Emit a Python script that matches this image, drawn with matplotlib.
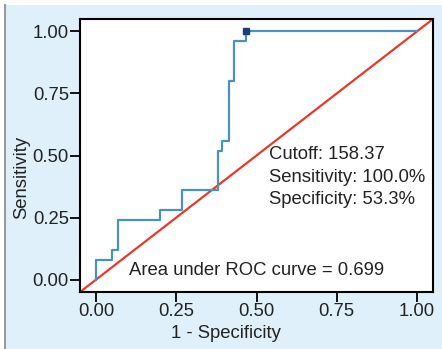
import matplotlib.pyplot as plt
from matplotlib.patches import Rectangle
from matplotlib.lines import Line2D

plt.rcParams['font.family'] = ['Liberation Sans', 'DejaVu Sans']

# ROC curve (step corners)
fpr = [0.0, 0.0, 0.05, 0.05, 0.067, 0.067, 0.2, 0.2, 0.267, 0.267, 0.38, 0.38,
       0.393, 0.393, 0.413, 0.413, 0.43, 0.43, 0.467, 0.467, 1.0]
tpr = [0.0, 0.08, 0.08, 0.12, 0.12, 0.24, 0.24, 0.28, 0.28, 0.36, 0.36, 0.52,
       0.52, 0.56, 0.56, 0.80, 0.80, 0.96, 0.96, 1.0, 1.0]
cut_fpr = 0.467
cut_tpr = 1.0
cutoff_lines = ['Cutoff: 158.37', 'Sensitivity: 100.0%', 'Specificity: 53.3%']
auc_label = 'Area under ROC curve = 0.699'
ticks = [0.0, 0.25, 0.5, 0.75, 1.0]

fs = 13.3
fig = plt.figure(figsize=(4.42, 3.49), dpi=100)
fig.patch.set_facecolor('white')
fig.patches.append(Rectangle((6/442, 0), 1, 1 - 5/349, transform=fig.transFigure,
                             facecolor='#dff0fa', edgecolor='none', zorder=-10))
fig.lines.append(Line2D([5/442, 5/442], [0, 1 - 5/349], transform=fig.transFigure,
                        color='#9a9a9a', lw=1.5))

ax = fig.add_axes([80/442, 1 - 292/349, 353/442, 273/349])
ax.set_facecolor('white')
lim = (-0.05, 1.05)
ax.plot(lim, lim, color='#e8392a', lw=1.6, zorder=2)
ax.plot(fpr, tpr, color='#4a94bb', lw=1.6, zorder=3)
ax.plot([cut_fpr], [cut_tpr], marker='s', ms=4.5, color='#1f3d7a', zorder=4)

ax.text(0.5, 0.035, auc_label, ha='center', va='center', fontsize=fs, color='#222222')
for i, s in enumerate(cutoff_lines):
    ax.text(0.54, 0.505 - i * 0.092, s, ha='left', va='center', fontsize=fs, color='#222222')

ax.set_xlim(lim)
ax.set_ylim(lim)
ax.set_xticks(ticks)
ax.set_yticks(ticks)
ax.set_xticklabels([f'{t:.2f}' for t in ticks])
ax.set_yticklabels([f'{t:.2f}' for t in ticks])
ax.tick_params(length=7, width=1.3, pad=1, labelsize=fs, labelcolor='#222222')
for sp in ax.spines.values():
    sp.set_linewidth(1.5)

fig.text(226/442, 1 - 333/349, '1 - Specificity', ha='center', va='center', fontsize=fs, color='#222222')
fig.text(22/442, 1 - 177/349, 'Sensitivity', ha='center', va='center', rotation=90, fontsize=fs, color='#222222')

fig.savefig('out.png', dpi=100, facecolor=fig.get_facecolor())
